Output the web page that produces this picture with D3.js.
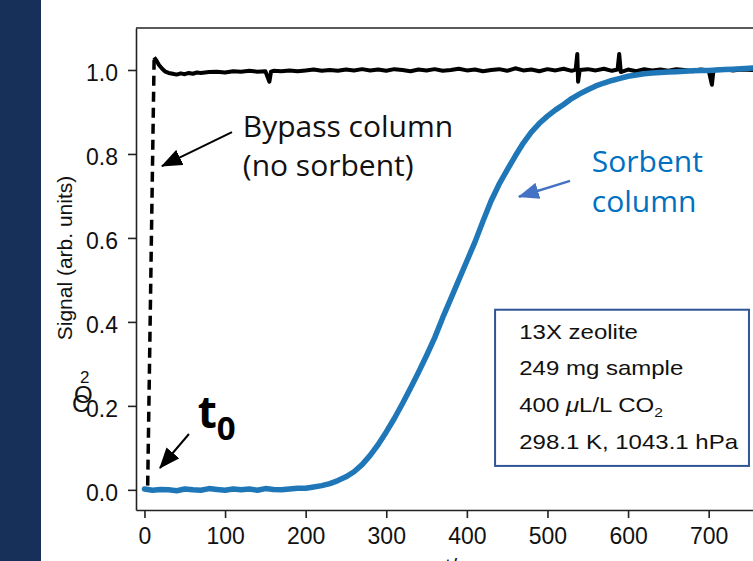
<!DOCTYPE html>
<html lang="en">
<head>
<meta charset="utf-8">
<title>CO2 breakthrough</title>
<script src="https://cdn.jsdelivr.net/npm/d3@7"></script>
<style>
  body { margin:0; background:#fff; overflow:hidden; }
  svg { display:block; }
  .tick text { font-family:"Liberation Sans", Arial, sans-serif; font-size:23px; fill:#111; }
  .axis path, .axis line { stroke:#222; stroke-width:1.6; }
  .mpl { font-family:"Liberation Sans", Arial, sans-serif; fill:#111; }
  .note { font-family:"Open Sans", sans-serif; font-size:30px; }
</style>
</head>
<body>
<div id="chart"></div>
<script>
// ticks
var xTicks = [0, 100, 200, 300, 400, 500, 600, 700];
var yTicks = [0, 0.2, 0.4, 0.6, 0.8, 1.0];

// sorbent column (blue), time in s
var sorbentT = [0,10,20,30,40,50,60,70,80,90,100,110,120,130,140,150,160,170,180,190,
  200,210,220,230,240,250,260,270,280,290,300,310,320,330,340,350,360,370,380,390,
  400,410,420,430,440,450,460,470,480,490,500,510,520,530,540,550,560,570,580,590,
  600,610,620,630,640,650,660,670,680,690,700,710,720,730,740,755];
var sorbentV = [0.002,-0.001,0.001,0.000,-0.002,0.002,0.000,-0.001,0.003,0.001,-0.001,0.002,0.000,0.002,-0.001,0.003,0.001,0.000,0.002,0.004,
  0.004,0.007,0.010,0.015,0.022,0.031,0.043,0.060,0.082,0.108,0.138,0.170,0.205,0.242,0.280,0.320,0.362,0.410,0.455,0.500,
  0.545,0.590,0.640,0.688,0.728,0.762,0.795,0.826,0.852,0.873,0.890,0.905,0.918,0.932,0.943,0.953,0.962,0.969,0.975,0.980,
  0.985,0.988,0.991,0.993,0.994,0.995,0.996,0.997,0.998,0.999,0.999,1.000,1.001,1.002,1.003,1.005];

// bypass column (black): dashed rise, then measured trace
var bypassDashT = [4, 12];
var bypassDashV = [0.010, 1.030];
var bypassT = [12,15,18,22,26,30,35,40,45,50,55,60,65,70,80,90,100,110,120,130,140,150,155,157,160,170,180,190,200,
  210,220,230,240,250,260,270,280,290,300,310,320,330,340,350,360,370,380,390,400,410,420,430,440,450,460,470,480,490,500,
  510,520,530,535,537,538,540,550,560,570,580,587,589,591,600,610,620,630,640,650,660,670,680,690,700,704,706,720,730,740,755];
var bypassV = [1.030,1.022,1.012,1.003,0.996,0.993,0.991,0.989,0.992,0.990,0.993,0.991,0.994,0.993,0.995,0.996,0.994,0.997,0.996,0.998,0.996,0.997,0.972,0.996,0.998,0.997,0.999,0.997,0.999,
  1.001,0.998,1.000,0.998,1.001,0.999,1.002,0.999,1.001,0.998,1.002,1.000,0.997,1.001,0.999,1.002,0.998,1.000,1.003,0.999,1.001,0.997,1.000,1.002,0.998,1.004,0.999,1.001,0.997,1.002,
  0.999,1.003,0.998,1.001,1.038,0.972,1.000,1.002,0.999,1.003,0.998,1.001,1.038,0.995,1.001,0.997,1.002,0.999,1.001,0.998,1.002,1.000,0.997,1.001,0.999,0.965,1.000,1.002,0.999,1.001,1.000];

var boxLines = ["13X zeolite", "249 mg sample", "400 μL/L CO2", "298.1 K, 1043.1 hPa"];

var w = 753, h = 561;

var svg = d3.select("#chart").append("svg")
  .attr("width", w).attr("height", h);

// slide band
svg.append("rect").attr("x", 0).attr("y", 0).attr("width", 41).attr("height", h).attr("fill", "#17305a");

var x = d3.scaleLinear().domain([-10.5, 755]).range([136, 753]);
var y = d3.scaleLinear().domain([-0.048, 1.1]).range([510, 28]);

svg.append("defs").append("clipPath").attr("id", "plot")
  .append("rect").attr("x", 136).attr("y", 28).attr("width", 617).attr("height", 482);

// axes
svg.append("g").attr("class", "axis")
  .attr("transform", "translate(0,510)")
  .call(d3.axisBottom(x).tickValues(xTicks).tickSize(8).tickPadding(10).tickSizeOuter(0));
svg.append("g").attr("class", "axis")
  .attr("transform", "translate(136,0)")
  .call(d3.axisLeft(y).tickValues(yTicks).tickFormat(d3.format(".1f")).tickSize(8).tickPadding(10).tickSizeOuter(0))
  .selectAll(".tick text").attr("dy", "0.45em");
svg.append("line").attr("x1", 136).attr("x2", 753).attr("y1", 28).attr("y2", 28)
  .attr("stroke", "#222").attr("stroke-width", 1.6);

// axis labels (as they appear on the slide)
svg.append("text").attr("class", "mpl")
  .attr("transform", "translate(72,258) rotate(-90)")
  .attr("text-anchor", "middle").attr("font-size", 21)
  .text("Signal (arb. units)");
svg.append("text").attr("class", "mpl").attr("x", 72).attr("y", 412).attr("font-size", 24).text("C");
svg.append("text").attr("class", "mpl").attr("x", 74).attr("y", 403).attr("font-size", 24).text("O");
svg.append("text").attr("class", "mpl").attr("x", 80).attr("y", 383).attr("font-size", 17).text("2");
svg.append("text").attr("class", "mpl").attr("x", 445).attr("y", 574).attr("font-size", 22).text("t/s");

// data
var line = d3.line().x(function(d) { return x(d[0]); }).y(function(d) { return y(d[1]); });
var g = svg.append("g").attr("clip-path", "url(#plot)");

g.append("path").datum(d3.zip(bypassDashT, bypassDashV))
  .attr("d", line).attr("fill", "none").attr("stroke", "#000")
  .attr("stroke-width", 3.5).attr("stroke-dasharray", "10,6");
g.append("path").datum(d3.zip(bypassT, bypassV))
  .attr("d", line).attr("fill", "none").attr("stroke", "#000")
  .attr("stroke-width", 4).attr("stroke-linejoin", "round");
g.append("path").datum(d3.zip(sorbentT, sorbentV))
  .attr("d", line).attr("fill", "none").attr("stroke", "#1f77b8")
  .attr("stroke-width", 5.5).attr("stroke-linejoin", "round").attr("stroke-linecap", "round");

// arrow heads
var defs = svg.select("defs");
[["headK", "#000"], ["headB", "#4472c4"]].forEach(function(m) {
  defs.append("marker").attr("id", m[0])
    .attr("viewBox", "0 0 20 16").attr("refX", 19).attr("refY", 8)
    .attr("markerUnits", "userSpaceOnUse")
    .attr("markerWidth", 21).attr("markerHeight", 17).attr("orient", "auto")
    .append("path").attr("d", "M0,0 L20,8 L0,16 Z").attr("fill", m[1]);
});

// annotations in data units
var arrows = [
  {from: [108.6, 0.852], to: [21.7, 0.771], color: "#000", head: "headK", sw: 2},
  {from: [528, 0.736], to: [464.6, 0.698], color: "#4472c4", head: "headB", sw: 2.5},
  {from: [55.2, 0.133], to: [19.2, 0.052], color: "#000", head: "headK", sw: 2}
];
arrows.forEach(function(a) {
  svg.append("line")
    .attr("x1", x(a.from[0])).attr("y1", y(a.from[1]))
    .attr("x2", x(a.to[0])).attr("y2", y(a.to[1]))
    .attr("stroke", a.color).attr("stroke-width", a.sw)
    .attr("marker-end", "url(#" + a.head + ")");
});

svg.append("text").attr("class", "note").attr("x", x(122)).attr("y", y(0.840)).attr("fill", "#111").text("Bypass column");
svg.append("text").attr("class", "note").attr("x", x(122)).attr("y", y(0.748)).attr("fill", "#111").text("(no sorbent)");
svg.append("text").attr("class", "note").attr("x", x(555)).attr("y", y(0.757)).attr("fill", "#0070c0").text("Sorbent");
svg.append("text").attr("class", "note").attr("x", x(555)).attr("y", y(0.662)).attr("fill", "#0070c0").text("column");

var t0 = svg.append("text").attr("class", "note").attr("x", x(66)).attr("y", y(0.148))
  .attr("font-weight", "bold").attr("fill", "#000");
t0.append("tspan").attr("font-size", 44).text("t");
t0.append("tspan").attr("font-size", 33).attr("dy", 12).text("0");

// info box
svg.append("rect")
  .attr("x", x(435)).attr("y", y(0.429))
  .attr("width", x(750) - x(435)).attr("height", y(0.057) - y(0.429))
  .attr("fill", "#fff").attr("stroke", "#2f5597").attr("stroke-width", 2);

var box = svg.append("g").attr("transform", "translate(" + x(465) + ",0) scale(1.2,1)");
boxLines.forEach(function(s, i) {
  var t = box.append("text").attr("class", "mpl").attr("font-size", 20)
    .attr("x", 0).attr("y", y(0.360 - i * 0.0875));
  if (s.indexOf("μ") >= 0) {
    t.append("tspan").text("400 ");
    t.append("tspan").attr("font-style", "italic").text("μ");
    t.append("tspan").text("L/L CO");
    t.append("tspan").attr("font-size", 13).attr("dy", 5).text("2");
  } else {
    t.text(s);
  }
});
</script>
</body>
</html>
